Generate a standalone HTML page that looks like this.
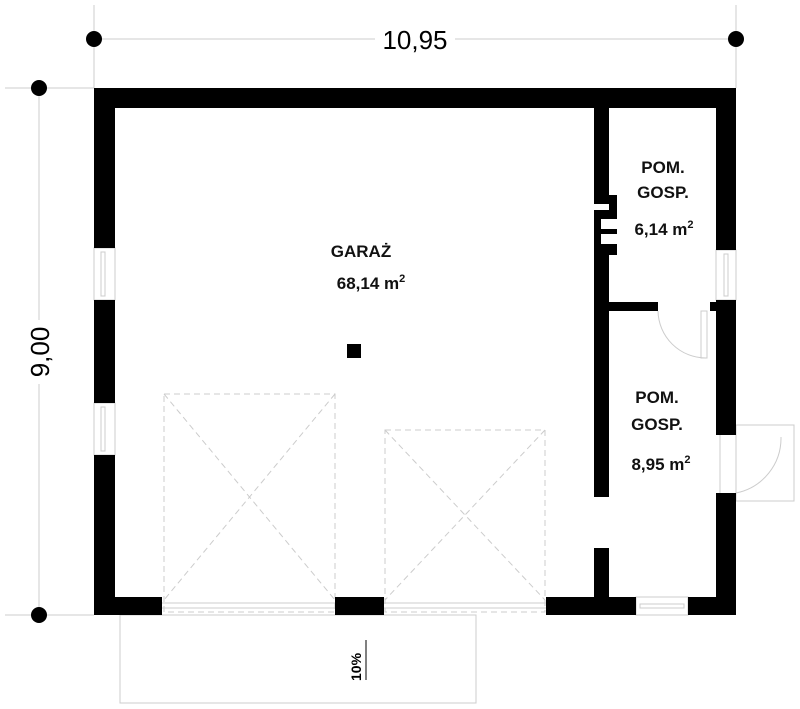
<!DOCTYPE html>
<html><head><meta charset="utf-8"><style>
html,body{margin:0;padding:0;background:#fff;width:800px;height:709px;overflow:hidden}
text{font-family:"Liberation Sans",Arial,sans-serif}
</style></head><body>
<svg width="800" height="709" viewBox="0 0 800 709" xmlns="http://www.w3.org/2000/svg">
<g stroke="#ccc" stroke-width="1">
<line x1="94" y1="39" x2="736" y2="39"/>
<line x1="94" y1="5" x2="94" y2="88"/>
<line x1="736" y1="5" x2="736" y2="88"/>
<line x1="39" y1="88" x2="39" y2="615"/>
<line x1="5" y1="88" x2="94" y2="88"/>
<line x1="5" y1="615" x2="94" y2="615"/>
</g>
<rect x="375" y="28" width="80" height="22" fill="#fff"/>
<text x="415" y="49" font-size="26" text-anchor="middle">10,95</text>
<rect x="26" y="320" width="26" height="64" fill="#fff"/>
<text transform="translate(49,352) rotate(-90)" font-size="26" text-anchor="middle">9,00</text>
<g fill="#000">
<circle cx="94" cy="39" r="8"/><circle cx="736" cy="39" r="8"/>
<circle cx="39" cy="88" r="8"/><circle cx="39" cy="615" r="8"/>
</g>
<rect x="120" y="615" width="356" height="88" fill="none" stroke="#ccc"/>
<text transform="translate(361,681) rotate(-90)" font-size="14" font-weight="bold">10%</text>
<line x1="366" y1="640" x2="366" y2="680" stroke="#000" stroke-width="1"/>
<g fill="none" stroke="#ccc" stroke-dasharray="6,4">
<rect x="164" y="394" width="171" height="218"/>
<line x1="164" y1="394" x2="335" y2="600"/><line x1="335" y1="394" x2="164" y2="600"/>
<rect x="385" y="430" width="160" height="182"/>
<line x1="385" y1="430" x2="545" y2="600"/><line x1="545" y1="430" x2="385" y2="600"/>
</g>
<g fill="none" stroke="#ccc">
<line x1="162" y1="603" x2="335" y2="603"/><line x1="162" y1="608" x2="335" y2="608"/>
<line x1="384" y1="603" x2="546" y2="603"/><line x1="384" y1="608" x2="546" y2="608"/>
<rect x="636" y="597" width="52" height="18"/>
<rect x="640" y="604" width="44" height="4"/>
<rect x="94" y="248" width="21" height="52"/><rect x="101" y="252" width="4" height="44"/>
<rect x="94" y="403" width="21" height="52"/><rect x="101" y="407" width="4" height="44"/>
<rect x="716" y="250" width="20" height="50"/><rect x="724" y="254" width="4" height="42"/>
<rect x="701" y="311" width="6" height="47"/>
<path d="M658 311 A48 48 0 0 0 706 358"/>
<rect x="736" y="425" width="58" height="76"/>
<line x1="720" y1="435" x2="720" y2="493"/><line x1="736" y1="435" x2="736" y2="493"/>
<path d="M781 437 A56 56 0 0 1 736 493"/>
</g>
<g fill="#000">
<rect x="94" y="88" width="642" height="20"/>
<rect x="94" y="88" width="21" height="160"/>
<rect x="94" y="300" width="21" height="103"/>
<rect x="94" y="455" width="21" height="160"/>
<rect x="716" y="88" width="20" height="162"/>
<rect x="716" y="300" width="20" height="135"/>
<rect x="716" y="493" width="20" height="122"/>
<rect x="94" y="597" width="68" height="18"/>
<rect x="335" y="597" width="49" height="18"/>
<rect x="546" y="597" width="90" height="18"/>
<rect x="688" y="597" width="48" height="18"/>
<rect x="594" y="108" width="15" height="389"/>
<rect x="594" y="548" width="15" height="49"/>
<rect x="609" y="302" width="49" height="9"/>
<rect x="710" y="302" width="6" height="9"/>
<rect x="609" y="195" width="8" height="60"/>
<rect x="347" y="344" width="14" height="14"/>
</g>
<g fill="#fff">
<rect x="594" y="204" width="15" height="6"/>
<rect x="601" y="219" width="16" height="10"/>
<rect x="601" y="234" width="16" height="10"/>
</g>
<g font-weight="bold" font-size="17" text-anchor="middle" fill="#111">
<text x="361" y="257">GARAŻ</text>
<text x="371" y="289">68,14 m<tspan font-size="11" dy="-7">2</tspan></text>
<text x="663" y="173">POM.</text>
<text x="663" y="198">GOSP.</text>
<text x="664" y="235">6,14 m<tspan font-size="11" dy="-7">2</tspan></text>
<text x="657" y="403">POM.</text>
<text x="657" y="430">GOSP.</text>
<text x="661" y="470">8,95 m<tspan font-size="11" dy="-7">2</tspan></text>
</g>
</svg>
</body></html>
